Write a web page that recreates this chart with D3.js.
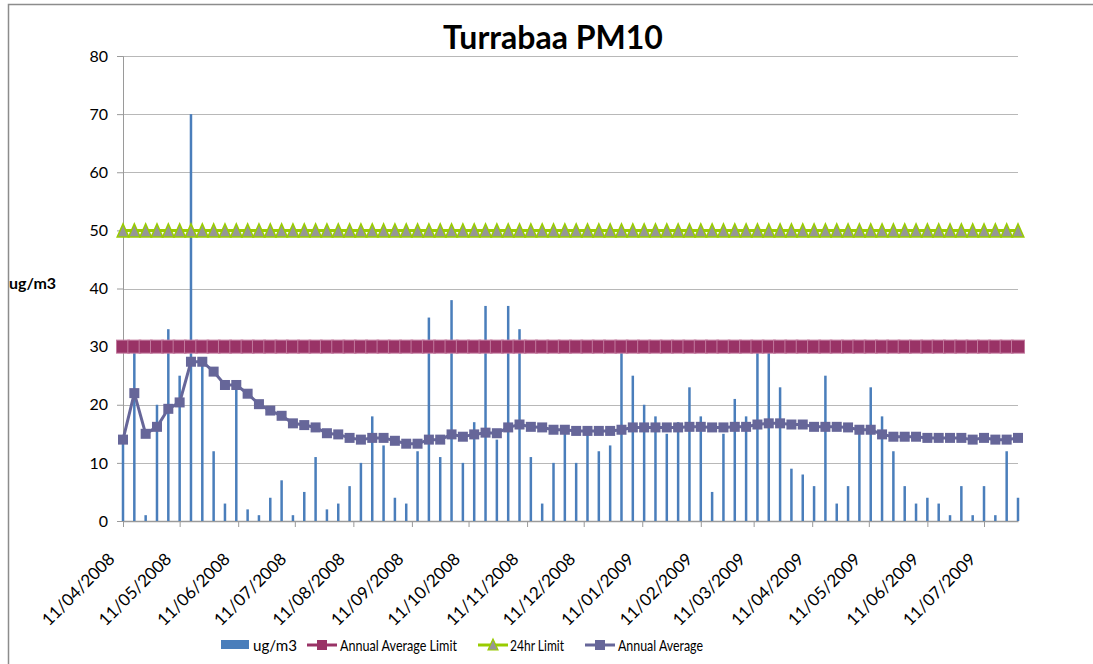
<!DOCTYPE html>
<html>
<head>
<meta charset="utf-8">
<script src="https://cdn.jsdelivr.net/npm/d3@7"></script>
<style>
  body { margin: 0; background: #fff; }
  text { font-family: Lato, "Open Sans", sans-serif; }
</style>
</head>
<body>
<div id="chart"></div>
<script>
// sample dates (1 day in 6)
var dates = [
  "11/04/2008","17/04/2008","23/04/2008","29/04/2008",
  "05/05/2008","11/05/2008","17/05/2008","23/05/2008","29/05/2008",
  "04/06/2008","10/06/2008","16/06/2008","22/06/2008","28/06/2008",
  "04/07/2008","10/07/2008","16/07/2008","22/07/2008","28/07/2008",
  "03/08/2008","09/08/2008","15/08/2008","21/08/2008","27/08/2008",
  "02/09/2008","08/09/2008","14/09/2008","20/09/2008","26/09/2008",
  "02/10/2008","08/10/2008","14/10/2008","20/10/2008","26/10/2008",
  "01/11/2008","07/11/2008","13/11/2008","19/11/2008","25/11/2008",
  "01/12/2008","07/12/2008","13/12/2008","19/12/2008","25/12/2008","31/12/2008",
  "06/01/2009","12/01/2009","18/01/2009","24/01/2009","30/01/2009",
  "05/02/2009","11/02/2009","17/02/2009","23/02/2009",
  "01/03/2009","07/03/2009","13/03/2009","19/03/2009","25/03/2009","31/03/2009",
  "06/04/2009","12/04/2009","18/04/2009","24/04/2009","30/04/2009",
  "06/05/2009","12/05/2009","18/05/2009","24/05/2009","30/05/2009",
  "05/06/2009","11/06/2009","17/06/2009","23/06/2009","29/06/2009",
  "05/07/2009","11/07/2009","17/07/2009","23/07/2009","29/07/2009"
];

var pm10 = [
  14, 30, 1, 20, 33, 25, 70, 27, 12, 3,
  23, 2, 1, 4, 7, 1, 5, 11, 2, 3,
  6, 10, 18, 13, 4, 3, 12, 35, 11, 38,
  10, 17, 37, 14, 37, 33, 11, 3, 10, 15,
  10, 15, 12, 13, 30, 25, 20, 18, 15, 17,
  23, 18, 5, 15, 21, 18, 30, 30, 23, 9,
  8, 6, 25, 3, 6, 16, 23, 18, 12, 6,
  3, 4, 3, 1, 6, 1, 6, 1, 12, 4
];

var annualAverage = [
  14, 22, 15, 16.2, 19.3, 20.4, 27.4, 27.4, 25.7, 23.4,
  23.4, 21.9, 20.1, 19.0, 18.1, 16.8, 16.5, 16.1, 15.1, 14.9,
  14.3, 14.0, 14.3, 14.3, 13.8, 13.3, 13.3, 14.0, 14.0, 14.9,
  14.5, 14.9, 15.2, 15.1, 16.1, 16.6, 16.2, 16.1, 15.7, 15.7,
  15.5, 15.5, 15.5, 15.5, 15.7, 16.1, 16.1, 16.1, 16.1, 16.1,
  16.2, 16.2, 16.1, 16.1, 16.2, 16.2, 16.6, 16.8, 16.8, 16.6,
  16.6, 16.2, 16.2, 16.2, 16.1, 15.7, 15.7, 14.9, 14.5, 14.5,
  14.5, 14.3, 14.3, 14.3, 14.3, 14.0, 14.3, 14.0, 14.0, 14.3
];

var annualLimit = 30;
var dailyLimit = 50;

var monthTicks = [
  "11/04/2008","11/05/2008","11/06/2008","11/07/2008","11/08/2008","11/09/2008",
  "11/10/2008","11/11/2008","11/12/2008","11/01/2009","11/02/2009","11/03/2009",
  "11/04/2009","11/05/2009","11/06/2009","11/07/2009"
];
var yTicks = [0, 10, 20, 30, 40, 50, 60, 70, 80];

var legendItems = ["ug/m3", "Annual Average Limit", "24hr Limit", "Annual Average"];

var width = 1093, height = 664;
// plot box (window.top is reserved, so own names)
var plotLeft = 123, plotRight = 1018, plotTop = 56, plotBottom = 521;

var parse = d3.timeParse("%d/%m/%Y");
var fmt = d3.timeFormat("%d/%m/%Y");

var data = dates.map(function(d, i) {
  return { date: parse(d), value: pm10[i], avg: annualAverage[i] };
});

var svg = d3.select("#chart").append("svg")
  .attr("width", width)
  .attr("height", height);

// chart frame
svg.append("path")
  .attr("d", "M8.5," + height + "V4.5H" + width)
  .attr("fill", "none")
  .attr("stroke", "#8c8c8c")
  .attr("stroke-width", 1.5);

var x = d3.scaleTime()
  .domain(d3.extent(data, function(d) { return d.date; }))
  .range([plotLeft, plotRight]);

var y = d3.scaleLinear()
  .domain([0, 80])
  .range([plotBottom, plotTop]);

// horizontal gridlines
svg.append("g")
  .selectAll("line")
  .data(yTicks.slice(1))
  .enter().append("line")
  .attr("x1", plotLeft).attr("x2", plotRight)
  .attr("y1", function(d) { return Math.round(y(d)) + 0.5; })
  .attr("y2", function(d) { return Math.round(y(d)) + 0.5; })
  .attr("stroke", "#b8b8b8")
  .attr("stroke-width", 1.2);

// y axis
var yAxis = svg.append("g")
  .attr("transform", "translate(" + plotLeft + ",0)")
  .call(d3.axisLeft(y).tickValues(yTicks).tickSize(6).tickPadding(9));
yAxis.select(".domain").attr("stroke", "#9a9a9a");
yAxis.selectAll(".tick line").attr("stroke", "#9a9a9a");
yAxis.selectAll(".tick text")
  .attr("fill", "#000")
  .style("font-size", "16px")
  .style("font-family", "Lato, sans-serif");

// x axis with month ticks
var xAxis = svg.append("g")
  .attr("transform", "translate(0," + plotBottom + ")")
  .call(d3.axisBottom(x)
    .tickValues(monthTicks.map(parse))
    .tickFormat(fmt)
    .tickSize(6)
    .tickSizeOuter(0));
xAxis.select(".domain").attr("stroke", "#9a9a9a").attr("stroke-width", 1.5);
xAxis.selectAll(".tick line").attr("stroke", "#9a9a9a");
xAxis.selectAll(".tick text")
  .attr("fill", "#000")
  .style("font-size", "17px")
  .style("font-family", "Lato, sans-serif")
  .attr("text-anchor", "end")
  .attr("x", 0)
  .attr("y", 0)
  .attr("dy", "0.35em")
  .attr("transform", "translate(-12,35) rotate(-45)");

// daily bars
svg.append("g")
  .selectAll("rect")
  .data(data)
  .enter().append("rect")
  .attr("x", function(d) { return x(d.date) - 1.25; })
  .attr("width", 2.5)
  .attr("y", function(d) { return y(d.value); })
  .attr("height", function(d) { return y(0) - y(d.value); })
  .attr("fill", "#4a7ebb");

// 24hr limit line with triangle markers
var limitLine = d3.line()
  .x(function(d) { return x(d.date); });

svg.append("path")
  .datum(data)
  .attr("d", limitLine.y(y(dailyLimit)))
  .attr("fill", "none")
  .attr("stroke", "#99cc00")
  .attr("stroke-width", 3);

svg.append("g")
  .selectAll("path")
  .data(data)
  .enter().append("path")
  .attr("d", "M0,-6.5L5.8,6.5L-5.8,6.5Z")
  .attr("transform", function(d) { return "translate(" + x(d.date) + "," + y(dailyLimit) + ")"; })
  .attr("fill", "#969696")
  .attr("stroke", "#99cc00")
  .attr("stroke-width", 1.5);

// annual average limit line with square markers
svg.append("path")
  .datum(data)
  .attr("d", limitLine.y(y(annualLimit)))
  .attr("fill", "none")
  .attr("stroke", "#993366")
  .attr("stroke-width", 3);

svg.append("g")
  .selectAll("rect")
  .data(data)
  .enter().append("rect")
  .attr("x", function(d) { return x(d.date) - 6.5; })
  .attr("y", y(annualLimit) - 6.5)
  .attr("width", 13)
  .attr("height", 13)
  .attr("fill", "#993366")
  .attr("stroke", "#c27a9e")
  .attr("stroke-width", 1);

// annual average
svg.append("path")
  .datum(data)
  .attr("d", d3.line()
    .x(function(d) { return x(d.date); })
    .y(function(d) { return y(d.avg); }))
  .attr("fill", "none")
  .attr("stroke", "#666699")
  .attr("stroke-width", 3);

svg.append("g")
  .selectAll("rect")
  .data(data)
  .enter().append("rect")
  .attr("x", function(d) { return x(d.date) - 5; })
  .attr("y", function(d) { return y(d.avg) - 5; })
  .attr("width", 10)
  .attr("height", 10)
  .attr("fill", "#666699");

// title and axis label
svg.append("text")
  .attr("x", 553)
  .attr("y", 49)
  .attr("text-anchor", "middle")
  .style("font-size", "32px")
  .style("font-weight", "bold")
  .text("Turrabaa PM10");

svg.append("text")
  .attr("x", 9)
  .attr("y", 289)
  .style("font-size", "16px")
  .style("font-weight", "bold")
  .text("ug/m3");

// legend
var legend = svg.append("g").attr("transform", "translate(0,645)");

legend.append("rect")
  .attr("x", 221).attr("y", -5)
  .attr("width", 28).attr("height", 9)
  .attr("fill", "#4a7ebb");

var legendLines = [
  { x: 307, color: "#993366", mark: "square" },
  { x: 478, color: "#99cc00", mark: "triangle" },
  { x: 585, color: "#666699", mark: "square" }
];

legendLines.forEach(function(l) {
  legend.append("line")
    .attr("x1", l.x).attr("x2", l.x + 30)
    .attr("stroke", l.color)
    .attr("stroke-width", 3);
  if (l.mark == "square") {
    legend.append("rect")
      .attr("x", l.x + 10).attr("y", -5)
      .attr("width", 10).attr("height", 10)
      .attr("fill", l.color);
  } else {
    legend.append("path")
      .attr("d", "M0,-6L5,5L-5,5Z")
      .attr("transform", "translate(" + (l.x + 15) + ",0)")
      .attr("fill", "#969696")
      .attr("stroke", l.color)
      .attr("stroke-width", 1.2);
  }
});

var legendText = [
  { x: 253, w: 44 },
  { x: 340, w: 117 },
  { x: 510, w: 54 },
  { x: 618, w: 85 }
];

legend.selectAll("text.lbl")
  .data(legendItems)
  .enter().append("text")
  .attr("class", "lbl")
  .attr("x", function(d, i) { return legendText[i].x; })
  .attr("y", 6)
  .attr("textLength", function(d, i) { return legendText[i].w; })
  .attr("lengthAdjust", "spacingAndGlyphs")
  .style("font-size", "16px")
  .text(function(d) { return d; });
</script>
</body>
</html>
